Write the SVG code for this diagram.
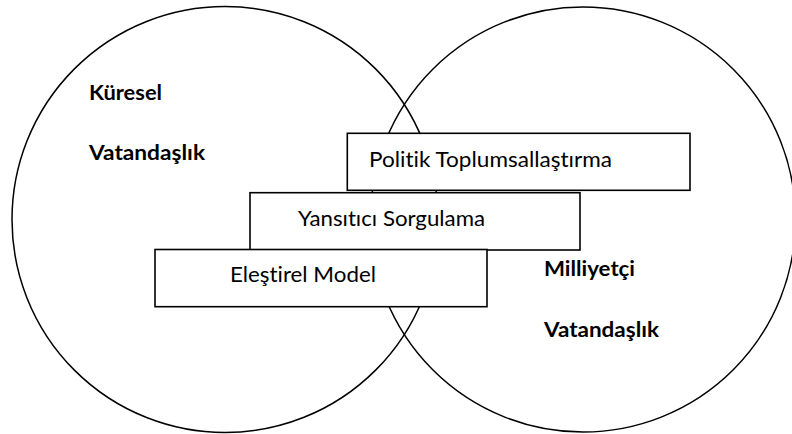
<svg xmlns="http://www.w3.org/2000/svg" width="792" height="434" viewBox="0 0 792 434">
<style>
.circ{fill:none;stroke:#000;stroke-width:1.5}
.box{fill:#fff;stroke:#000;stroke-width:1.6}
.t{font-family:Lato,"Open Sans","Liberation Sans",sans-serif;font-size:20.5px;fill:#000;font-variant-ligatures:none}
.b{font-family:Lato,"Open Sans","Liberation Sans",sans-serif;font-size:20.5px;font-weight:bold;fill:#000;font-variant-ligatures:none}
</style>
<rect width="792" height="434" fill="#fff"/>
<g id="kuresel">
<circle class="circ" cx="225" cy="219.5" r="213"/>
<text class="b" x="89" y="100" textLength="73" lengthAdjust="spacingAndGlyphs">Küresel</text>
<text class="b" x="89" y="160" textLength="116" lengthAdjust="spacingAndGlyphs">Vatandaşlık</text>
</g>
<g id="milliyetci">
<circle class="circ" cx="583" cy="219.5" r="212.5"/>
<text class="b" x="544" y="276" textLength="91" lengthAdjust="spacingAndGlyphs">Milliyetçi</text>
<text class="b" x="544" y="336.5" textLength="115" lengthAdjust="spacingAndGlyphs">Vatandaşlık</text>
</g>
<g id="connectors"></g>
<g id="politik">
<rect class="box" x="347.3" y="133.3" width="342.7" height="57"/>
<text class="t" x="369" y="166.5" textLength="243" lengthAdjust="spacingAndGlyphs">Politik Toplumsallaştırma</text>
</g>
<g id="yansitici">
<rect class="box" x="250" y="192.7" width="330" height="57.3"/>
<text class="t" x="298" y="226" textLength="187" lengthAdjust="spacingAndGlyphs">Yansıtıcı Sorgulama</text>
</g>
<g id="elestirel">
<rect class="box" x="155" y="249.5" width="332" height="57.2"/>
<text class="t" x="230" y="281.5" textLength="146" lengthAdjust="spacingAndGlyphs">Eleştirel Model</text>
</g>
</svg>
